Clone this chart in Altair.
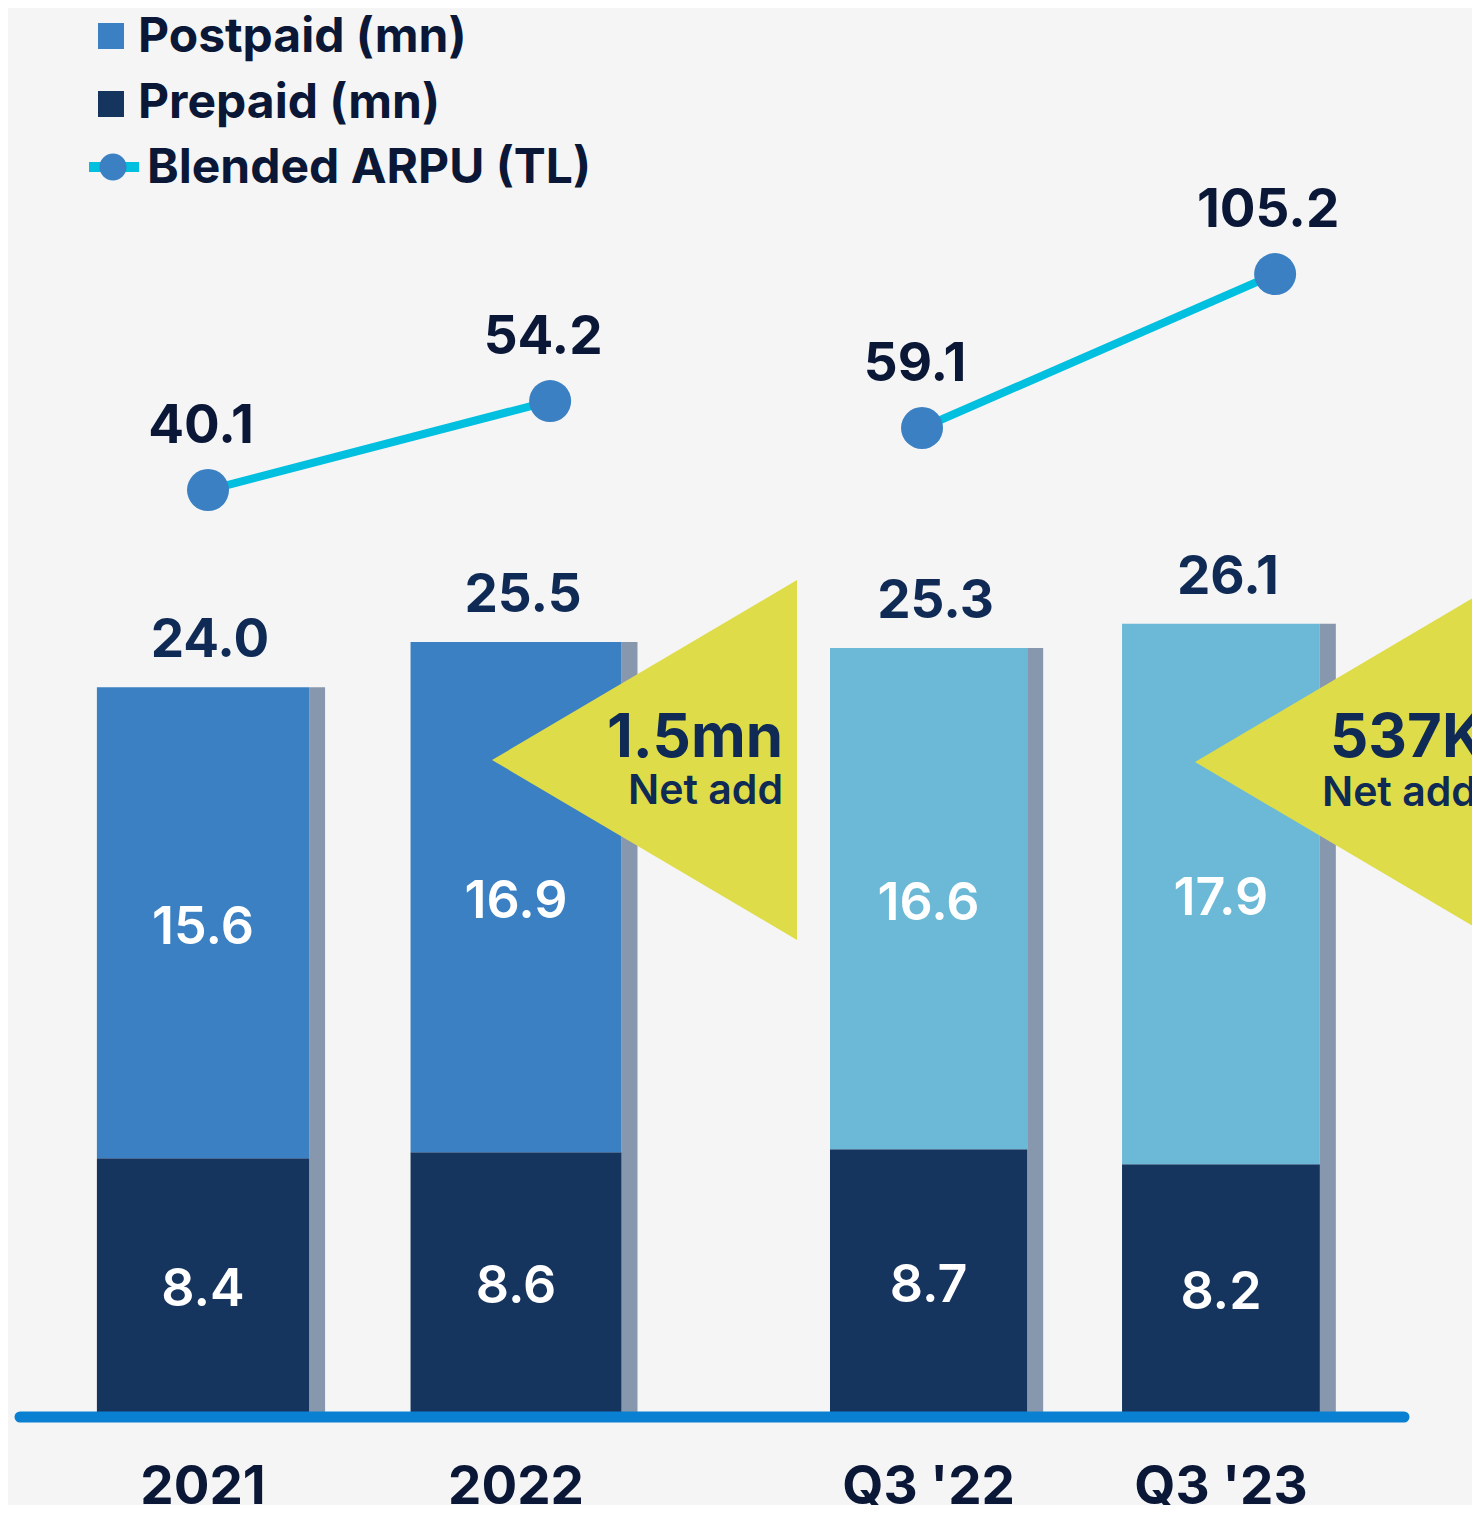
import altair as alt
import pandas as pd

# ---------------- data ----------------
categories = ["2021", "2022", "Q3 '22", "Q3 '23"]
postpaid = [15.6, 16.9, 16.6, 17.9]
prepaid = [8.4, 8.6, 8.7, 8.2]
arpu = [40.1, 54.2, 59.1, 105.2]
period = ["annual", "annual", "quarterly", "quarterly"]
net_add_values = ["1.5mn", "537K"]
net_add_caption = "Net add"
legend_labels = ["Postpaid (mn)", "Prepaid (mn)", "Blended ARPU (TL)"]

# ---------------- layout (not data) ----------------
BAR_SLOT = [0.0, 1.0, 2.318, 3.252]
BAR_HALF = [0.339, 0.337, 0.315, 0.316]
SHADOW = 0.051
ARPU_SLOT = [0.016, 1.109, 2.297, 3.425]

W, H = 1464, 1497
FONT = "Inter"
NAVY_TXT = "#0f2a55"
LEG_TXT = "#0b1736"
C_POST = "#3a80c3"
C_POST_Q = "#6bb9d6"
C_PRE = "#15345e"
C_SHADOW = "#8797ad"
C_LINE = "#00bfdf"
C_DOT = "#3a80c3"
C_YEL = "#dedc48"
C_BASE = "#0a80d2"

xs = alt.Scale(domain=[-0.623, 4.054], nice=False, zero=False)
ys = alt.Scale(domain=[-3.08, 46.49], nice=False, zero=False)
ys_annual = alt.Scale(domain=[-120.75, 116.49], nice=False, zero=False)
ys_quarter = alt.Scale(domain=[-263.36, 184.85], nice=False, zero=False)

# ---------------- tables ----------------
seg_rows, tot_rows = [], []
for i, c in enumerate(categories):
    x0 = BAR_SLOT[i] - BAR_HALF[i]
    x1 = BAR_SLOT[i] + BAR_HALF[i]
    pre, post = prepaid[i], postpaid[i]
    tot = round(pre + post, 1)
    post_key = "Postpaid (mn)" if period[i] == "annual" else "Postpaid Q"
    seg_rows.append(dict(cat=c, key="Prepaid (mn)", x0=x0, x1=x1, y0=0, y1=pre,
                         xc=BAR_SLOT[i], ym=pre / 2, lab=f"{pre:.1f}"))
    seg_rows.append(dict(cat=c, key=post_key, x0=x0, x1=x1, y0=pre, y1=tot,
                         xc=BAR_SLOT[i], ym=pre + post / 2, lab=f"{post:.1f}"))
    tot_rows.append(dict(cat=c, xc=BAR_SLOT[i], s0=x1, s1=x1 + SHADOW,
                         tot=tot, lab=f"{tot:.1f}"))
seg_df = pd.DataFrame(seg_rows)
tot_df = pd.DataFrame(tot_rows)

arpu_df = pd.DataFrame(dict(cat=categories, xs=ARPU_SLOT, v=arpu, per=period,
                            lab=[f"{v:.1f}" for v in arpu]))
one = pd.DataFrame({"a": [0]})

X = lambda f: alt.X(f, type="quantitative", scale=xs, axis=None)

# ---------------- bars ----------------
shadow = alt.Chart(tot_df).mark_rect(color=C_SHADOW).encode(
    x=X("s0"), x2="s1",
    y=alt.Y("tot:Q", scale=ys, axis=None), y2=alt.datum(0))
bars = alt.Chart(seg_df).mark_rect().encode(
    x=X("x0"), x2="x1",
    y=alt.Y("y0:Q", scale=ys, axis=None), y2="y1",
    fill=alt.Fill("key:N", legend=None, scale=alt.Scale(
        domain=["Postpaid (mn)", "Prepaid (mn)", "Postpaid Q"],
        range=[C_POST, C_PRE, C_POST_Q])))
seg_text = alt.Chart(seg_df).mark_text(
    font=FONT, fontSize=52, fontWeight=600, color="white", baseline="middle", dy=5).encode(
    x=X("xc"), y=alt.Y("ym:Q", scale=ys, axis=None), text="lab:N")
tot_text = alt.Chart(tot_df).mark_text(
    font=FONT, fontSize=53, fontWeight=700, color=NAVY_TXT,
    baseline="alphabetic", dy=-30, dx=7).encode(
    x=X("xc"), y=alt.Y("tot:Q", scale=ys, axis=None), text="lab:N")
cat_text = alt.Chart(tot_df).mark_text(
    font=FONT, fontSize=53, fontWeight=700, color=LEG_TXT,
    baseline="alphabetic").encode(
    x=X("xc"), y=alt.value(1496), text="cat:N")
bar_layer = alt.layer(shadow, bars, seg_text, tot_text, cat_text)


def arpu_layer(per, scale):
    base = alt.Chart(arpu_df[arpu_df.per == per]).encode(
        x=X("xs"), y=alt.Y("v:Q", scale=scale, axis=None))
    line = base.mark_line(color=C_LINE, strokeWidth=8)
    dots = base.mark_point(filled=True, color=C_DOT, size=1764, opacity=1, strokeWidth=0)
    labs = base.mark_text(font=FONT, fontSize=53, fontWeight=700, color=LEG_TXT,
                          baseline="alphabetic", dy=-47, dx=-7).encode(text="lab:N")
    return alt.layer(line, dots, labs)


annual = arpu_layer("annual", ys_annual)
quarter = arpu_layer("quarterly", ys_quarter)

# ---------------- annotations ----------------
TRI = "M1,-1.18 L-1,0 L1,1.18 Z"
tri1 = alt.Chart(one).mark_point(shape=TRI, size=93025, filled=True, fill=C_YEL,
                                 opacity=1, strokeWidth=0).encode(
    x=alt.value(636.5), y=alt.value(752))
tri2 = alt.Chart(one).mark_point(shape=TRI, size=93025, filled=True, fill=C_YEL,
                                 opacity=1, strokeWidth=0).encode(
    x=alt.value(1339.5), y=alt.value(754))


def txt(s, x, y, size, weight=700, color=NAVY_TXT, align="left"):
    return alt.Chart(one).mark_text(text=s, font=FONT, fontSize=size, fontWeight=weight,
                                    color=color, align=align, baseline="alphabetic").encode(
        x=alt.value(x), y=alt.value(y))


na = [
    txt(net_add_values[0], 775, 749, 60, align="right"),
    txt(net_add_caption, 775, 796, 41, weight=600, align="right"),
    txt(net_add_values[1], 1322, 749, 60),
    txt(net_add_caption, 1314, 798, 41, weight=600),
]

baseline = alt.Chart(one).mark_rule(color=C_BASE, strokeWidth=11, strokeCap="round").encode(
    x=alt.value(12), x2=alt.value(1396), y=alt.value(1409))

# legend
leg = [
    alt.Chart(one).mark_square(color=C_POST, size=676, opacity=1).encode(
        x=alt.value(103), y=alt.value(28)),
    alt.Chart(one).mark_square(color=C_PRE, size=676, opacity=1).encode(
        x=alt.value(103), y=alt.value(96)),
    alt.Chart(one).mark_rule(color=C_LINE, strokeWidth=10).encode(
        x=alt.value(81), x2=alt.value(131), y=alt.value(159)),
    alt.Chart(one).mark_circle(color=C_DOT, size=729, opacity=1).encode(
        x=alt.value(105), y=alt.value(159)),
    txt(legend_labels[0], 130, 44, 48, color=LEG_TXT),
    txt(legend_labels[1], 130, 110, 48, color=LEG_TXT),
    txt(legend_labels[2], 139, 175, 48, color=LEG_TXT),
]

chart = alt.layer(
    bar_layer, annual, quarter, tri1, tri2, *na, baseline, *leg
).resolve_scale(y="independent").properties(
    width=W, height=H,
    autosize=alt.AutoSizeParams(type="none"),
    padding=0,
    background="#f5f5f5",
).configure_view(stroke=None)

chart.save("out.html", embed_options={"renderer": "svg", "actions": False})
